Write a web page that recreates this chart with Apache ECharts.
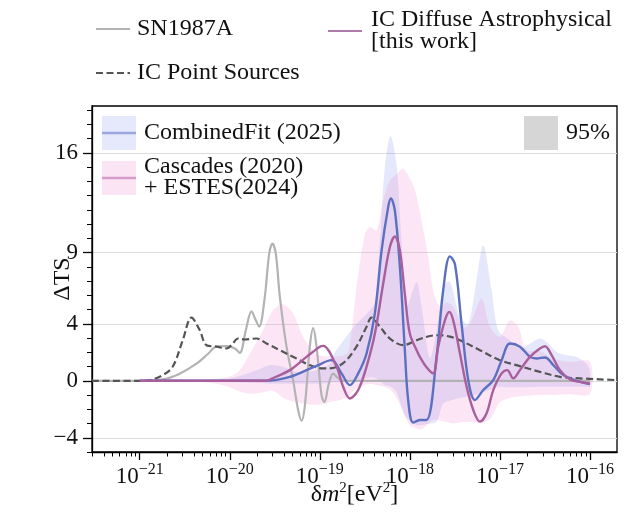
<!DOCTYPE html>
<html>
<head>
<meta charset="utf-8">
<script src="https://cdn.jsdelivr.net/npm/echarts@6/dist/echarts.min.js"></script>
<style>
  html, body { margin: 0; padding: 0; background: #ffffff; }
  #chart { width: 639px; height: 529px; }
</style>
</head>
<body>
<div id="chart"></div>
<script>
// All x values are exponents: log10(δm² / eV²). y values are ΔTS.

// SN1987A
const snX = [-21.53, -21.0, -20.744, -20.556, -20.37, -20.241, -20.148, -20.037, -19.944, -19.889, -19.822, -19.759, -19.711, -19.674, -19.611, -19.563, -19.526, -19.489, -19.444, -19.37, -19.297, -19.241, -19.203, -19.167, -19.111, -19.074, -19.037, -18.981, -18.95, -18.90, -18.852, -18.80, -18.741, -16.0];
const snY = [0, 0, 0.1, 0.5, 1.2, 1.9, 2.4, 2.43, 2.27, 1.96, 3.55, 4.88, 4.25, 3.8, 5.9, 8.9, 9.63, 8.93, 5.9, 2.4, 0.05, -2.05, -2.8, -1.8, 2.4, 3.7, 2.4, -1.0, -1.5, -0.2, 0.5, 0.2, 0, 0];

// IC Point Sources
const psX = [-21.53, -21.0, -20.889, -20.744, -20.633, -20.522, -20.426, -20.333, -20.259, -20.148, -20.037, -19.981, -19.908, -19.833, -19.703, -19.592, -19.444, -19.259, -19.111, -18.963, -18.889, -18.741, -18.593, -18.481, -18.426, -18.333, -18.222, -18.074, -17.926, -17.778, -17.667, -17.556, -17.444, -17.222, -17.0, -16.778, -16.556, -16.333, -16.111, -15.70];
const psY = [0, 0, 0.05, 0.4, 1.0, 2.85, 4.44, 3.55, 2.5, 2.4, 2.27, 2.5, 2.97, 2.9, 2.97, 2.62, 2.15, 1.57, 1.1, 0.87, 0.87, 1.24, 2.4, 3.8, 4.44, 3.8, 2.97, 2.5, 2.85, 3.15, 3.2, 3.1, 2.85, 2.15, 1.45, 1.03, 0.63, 0.28, 0.17, 0.05];

// CombinedFit (2025)
const cfX = [-21.0, -19.6, -19.333, -19.111, -19.037, -18.87, -18.759, -18.667, -18.574, -18.481, -18.389, -18.314, -18.241, -18.211, -18.167, -18.111, -18.056, -18.019, -17.963, -17.889, -17.815, -17.704, -17.63, -17.556, -17.5, -17.426, -17.352, -17.278, -17.185, -17.074, -16.981, -16.889, -16.778, -16.667, -16.593, -16.5, -16.407, -16.296, -16.148, -16.0];
const cfY = [0, 0, 0.28, 0.85, 1.05, 1.45, 0.52, -0.3, 0.52, 1.92, 4.72, 9.16, 12.2, 12.8, 11.96, 8.0, 2.15, -1.35, -2.94, -2.75, -2.75, 1.68, 6.36, 8.74, 8.2, 4.0, 0.05, -1.35, -0.65, 0.05, 1.45, 2.62, 2.4, 1.68, 1.57, 1.64, 1.1, 0.4, 0, -0.23];

// Cascades (2020) + ESTES (2024)
const csX = [-21.0, -19.6, -19.526, -19.333, -19.148, -19.0, -18.963, -18.815, -18.741, -18.667, -18.574, -18.481, -18.389, -18.297, -18.222, -18.167, -18.111, -18.056, -18.0, -17.908, -17.889, -17.815, -17.741, -17.685, -17.611, -17.563, -17.519, -17.444, -17.37, -17.296, -17.222, -17.148, -17.074, -16.981, -16.919, -16.852, -16.778, -16.667, -16.556, -16.5, -16.426, -16.333, -16.222, -16.111, -16.0];
const csY = [0, 0, 0.17, 0.75, 1.68, 2.4, 2.45, 1.0, -0.42, -1.24, -0.65, 1.0, 3.3, 6.8, 9.4, 10.14, 9.16, 6.1, 3.3, 1.92, 1.68, 0.95, 0.52, 2.4, 4.25, 4.84, 4.25, 1.92, -0.42, -2.05, -2.87, -2.28, -0.65, 0.52, 0.75, 0.17, 0.75, 1.68, 2.27, 2.43, 1.8, 0.75, 0.1, -0.07, -0.18];

// 95% ranges: CombinedFit
const cfBandX = [-21.0, -20.2, -20.0, -19.703, -19.556, -19.407, -19.259, -19.037, -18.889, -18.852, -18.593, -18.481, -18.389, -18.333, -18.278, -18.215, -18.148, -18.093, -18.037, -17.926, -17.87, -17.778, -17.704, -17.63, -17.556, -17.444, -17.352, -17.278, -17.185, -17.093, -17.019, -16.889, -16.778, -16.667, -16.556, -16.463, -16.37, -16.259, -16.148, -16.037, -16.0];
const cfBandHi = [0, 0.05, 0.15, 0.75, 1.1, 0.98, 0.63, 0.75, 1.2, 1.8, 4.0, 4.7, 5.5, 9.86, 15.0, 17.2, 15.2, 9.86, 5.2, 6.94, 5.2, 1.6, 3.5, 6.6, 6.94, 4.5, 4.0, 6.36, 9.5, 6.36, 3.55, 2.85, 2.27, 2.6, 2.97, 2.62, 2.03, 1.8, 1.68, 1.2, 0.6];
const cfBandLo = [0, -0.05, -0.1, -0.15, -0.2, -0.2, -0.2, -0.2, -0.15, -0.1, -0.07, 0.2, 0.2, 0.0, -0.3, -0.4, -0.8, -1.8, -2.6, -3.1, -3.1, -3.0, -2.9, -1.6, -1.4, -1.2, -1.1, -1.0, -0.8, -0.6, -0.42, -0.45, -0.45, -0.45, -0.42, -0.42, -0.42, -0.42, -0.42, -0.42, -0.42];

// 95% ranges: Cascades + ESTES
const csBandX = [-21.0, -20.5, -20.2, -20.0, -19.889, -19.778, -19.63, -19.519, -19.407, -19.297, -19.185, -19.037, -18.889, -18.703, -18.656, -18.593, -18.5, -18.444, -18.37, -18.297, -18.222, -18.148, -18.074, -18.0, -17.944, -17.87, -17.796, -17.741, -17.667, -17.593, -17.519, -17.407, -17.333, -17.204, -17.111, -17.0, -16.889, -16.796, -16.704, -16.556, -16.407, -16.222, -16.0];
const csBandHi = [0, 0.02, 0.1, 0.3, 0.75, 1.9, 3.55, 4.95, 5.37, 4.72, 3.08, 1.9, 1.7, 1.9, 3.0, 6.6, 10.3, 10.8, 10.56, 12.66, 14.06, 14.5, 14.9, 14.2, 13.4, 11.26, 8.7, 6.36, 5.2, 5.5, 5.2, 3.8, 4.0, 5.77, 3.8, 3.08, 4.25, 3.8, 2.15, 2.1, 1.57, 1.33, 1.33];
const csBandLo = [0, -0.02, -0.15, -0.45, -0.75, -0.9, -0.8, -0.7, -1.2, -1.45, -1.6, -1.7, -1.5, -1.2, -0.9, -0.5, -0.3, -0.2, -0.3, -0.4, -0.6, -1.2, -2.2, -3.1, -3.3, -3.4, -3.0, -2.75, -2.8, -2.9, -3.0, -2.9, -2.87, -2.95, -2.7, -1.5, -1.2, -1.1, -1.05, -1.0, -1.0, -0.95, -0.93];

// Axis ticks
const xMin = -21.53, xMax = -15.70;
const yMin = -5, yMax = 19.3;
const xMajorTicks = [-21, -20, -19, -18, -17, -16];
const yMajorTicks = [-4, 0, 4, 9, 16];

const FONT = '"Liberation Serif", "DejaVu Serif", serif';
const BLUE = '#5d70bf';
const PINK = '#a95f9c';

function pairs(xs, ys) { return xs.map((x, i) => [x, ys[i]]); }

// minor decade ticks at 2..9 × 10^n
const xMinorTicks = [];
for (let n = -22; n <= -16; n++) {
  for (let k = 2; k <= 9; k++) {
    const v = n + Math.log10(k);
    if (v > xMin && v < xMax) xMinorTicks.push(v);
  }
}
const yMinorTicks = [];
for (let v = Math.ceil(yMin); v <= Math.floor(yMax); v++) yMinorTicks.push(v);

// A shaded range between lo and hi, drawn as one closed polygon
function bandSeries(name, xs, lo, hi, color) {
  return {
    name: name, type: 'custom', silent: true, z: 1, clip: true,
    data: xs.map((x, i) => [x, lo[i], hi[i]]),
    encode: { x: 0, y: [1, 2] },
    renderItem: function (params, api) {
      if (params.dataIndexInside !== 0) return null;
      const n = params.dataInsideLength;
      const top = [], bottom = [];
      for (let i = 0; i < n; i++) {
        top.push(api.coord([api.value(0, i), api.value(2, i)]));
        bottom.push(api.coord([api.value(0, i), api.value(1, i)]));
      }
      return {
        type: 'polygon',
        shape: { points: top.concat(bottom.reverse()), smooth: 0.3 },
        style: { fill: color }
      };
    }
  };
}

const chart = echarts.init(document.getElementById('chart'), null, { renderer: 'canvas' });

const supRich = {
  b: { fontFamily: FONT, fontSize: 23, color: '#111', lineHeight: 26, verticalAlign: 'bottom' },
  s: { fontFamily: FONT, fontSize: 16, color: '#111', lineHeight: 16, verticalAlign: 'top' }
};

const legendCommon = {
  itemWidth: 34, itemHeight: 14, itemGap: 0,
  itemStyle: { opacity: 0 },
  textStyle: { fontFamily: FONT, fontSize: 24, color: '#111', padding: [0, 0, 0, 2] }
};

const option = {
  animation: false,
  backgroundColor: '#ffffff',
  grid: {
    left: 92, right: 22, top: 106, bottom: 77,
    show: true, borderColor: '#000', borderWidth: 1.3, backgroundColor: 'transparent',
    outerBoundsMode: 'none', containLabel: false
  },
  legend: [
    Object.assign({}, legendCommon, { data: ['SN1987A'], left: 90, top: 12 }),
    Object.assign({}, legendCommon, {
      data: ['IC Diffuse Astrophysical\n[this work]'], left: 322, top: 3,
      textStyle: { fontFamily: FONT, fontSize: 24, lineHeight: 22, color: '#111', padding: [0, 0, 0, 4] }
    }),
    Object.assign({}, legendCommon, { data: ['IC Point Sources'], left: 90, top: 56 })
  ],
  xAxis: [
    {
      type: 'value', min: xMin, max: xMax, position: 'bottom',
      axisLine: { show: true, onZero: false, lineStyle: { color: '#000', width: 1.3 } },
      axisTick: { show: true, customValues: xMajorTicks, length: 8, lineStyle: { color: '#000', width: 1.3 } },
      axisLabel: {
        show: true, customValues: xMajorTicks, margin: 10,
        formatter: v => '{b|10}{s|' + (v < 0 ? '\u2212' : '') + Math.abs(v) + '}',
        rich: supRich
      },
      splitLine: { show: false },
      name: '{n|\u03b4}{i|m}{s|2}{n|[eV}{s|2}{n|]}',
      nameLocation: 'middle', nameGap: 29, nameMoveOverlap: false,
      nameTextStyle: {
        rich: {
          n: { fontFamily: FONT, fontSize: 24, color: '#111', lineHeight: 26, verticalAlign: 'bottom' },
          i: { fontFamily: FONT, fontSize: 24, fontStyle: 'italic', color: '#111', lineHeight: 26, verticalAlign: 'bottom' },
          s: { fontFamily: FONT, fontSize: 15, color: '#111', lineHeight: 15, verticalAlign: 'top' }
        }
      }
    },
    {
      type: 'value', min: xMin, max: xMax, position: 'bottom',
      axisLine: { show: false, onZero: false },
      axisTick: { show: true, customValues: xMinorTicks, length: 4.5, lineStyle: { color: '#000', width: 1 } },
      axisLabel: { show: false },
      splitLine: { show: false }
    }
  ],
  yAxis: [
    {
      type: 'value', min: yMin, max: yMax, position: 'left',
      axisLine: { show: true, onZero: false, lineStyle: { color: '#000', width: 1.3 } },
      axisTick: { show: true, customValues: yMajorTicks, length: 9, lineStyle: { color: '#000', width: 1.3 } },
      axisLabel: {
        show: true, customValues: yMajorTicks, margin: 14,
        fontFamily: FONT, fontSize: 23, color: '#111',
        formatter: v => (v < 0 ? '\u2212' + Math.abs(v) : String(v))
      },
      splitLine: { show: true, lineStyle: { color: '#dddddd', width: 1.2 } },
      name: '\u0394TS', nameLocation: 'middle', nameGap: 17, nameRotate: 90, nameMoveOverlap: false,
      nameTextStyle: { fontFamily: FONT, fontSize: 24, color: '#111' }
    },
    {
      type: 'value', min: yMin, max: yMax, position: 'left',
      axisLine: { show: false, onZero: false },
      axisTick: { show: true, customValues: yMinorTicks, length: 5, lineStyle: { color: '#000', width: 1 } },
      axisLabel: { show: false },
      splitLine: { show: false }
    }
  ],
  graphic: [
    { type: 'rect', shape: { x: 102, y: 116, width: 34, height: 34 }, style: { fill: '#e6e9fb' }, z: 100 },
    { type: 'line', shape: { x1: 102, y1: 133, x2: 136, y2: 133 }, style: { stroke: '#9aa6dd', lineWidth: 2.5 }, z: 101 },
    { type: 'text', x: 144, y: 133, style: { text: 'CombinedFit (2025)', font: '24px ' + FONT, fill: '#111', verticalAlign: 'middle' }, z: 101 },
    { type: 'rect', shape: { x: 102, y: 161, width: 34, height: 34 }, style: { fill: '#fbe5f5' }, z: 100 },
    { type: 'line', shape: { x1: 102, y1: 178, x2: 136, y2: 178 }, style: { stroke: '#d59ccb', lineWidth: 2.5 }, z: 101 },
    { type: 'text', x: 144, y: 177, style: { text: 'Cascades (2020)\n+ ESTES(2024)', font: '24px ' + FONT, lineHeight: 21, fill: '#111', verticalAlign: 'middle' }, z: 101 },
    { type: 'rect', shape: { x: 524, y: 116, width: 34, height: 34 }, style: { fill: '#d6d6d6' }, z: 100 },
    { type: 'text', x: 566, y: 133, style: { text: '95%', font: '24px ' + FONT, fill: '#111', verticalAlign: 'middle' }, z: 101 }
  ],
  series: [
    bandSeries('CombinedFit 95%', cfBandX, cfBandLo, cfBandHi, 'rgba(120,140,232,0.2)'),
    bandSeries('Cascades 95%', csBandX, csBandLo, csBandHi, 'rgba(240,130,212,0.2)'),
    {
      name: 'SN1987A', type: 'line', data: pairs(snX, snY), smooth: 0.35, symbol: 'none', z: 3,
      color: '#b3b3b3', lineStyle: { color: '#b3b3b3', width: 2.2 }
    },
    {
      name: 'IC Point Sources', type: 'line', data: pairs(psX, psY), smooth: 0.35, symbol: 'none', z: 4,
      color: '#555555', lineStyle: { color: '#555555', width: 2.2, type: [7, 3.5] }
    },
    {
      name: 'CombinedFit (2025)', type: 'line', data: pairs(cfX, cfY), smooth: 0.35, symbol: 'none', z: 5,
      color: BLUE, lineStyle: { color: BLUE, width: 2.4 }
    },
    {
      name: 'Cascades (2020) + ESTES(2024)', type: 'line', data: pairs(csX, csY), smooth: 0.35, symbol: 'none', z: 6,
      color: PINK, lineStyle: { color: PINK, width: 2.4 }
    },
    {
      name: 'IC Diffuse Astrophysical\n[this work]', type: 'line', data: [], symbol: 'none',
      color: '#b07aab', lineStyle: { color: '#b07aab', width: 3 }
    }
  ]
};

chart.setOption(option);
</script>
</body>
</html>
